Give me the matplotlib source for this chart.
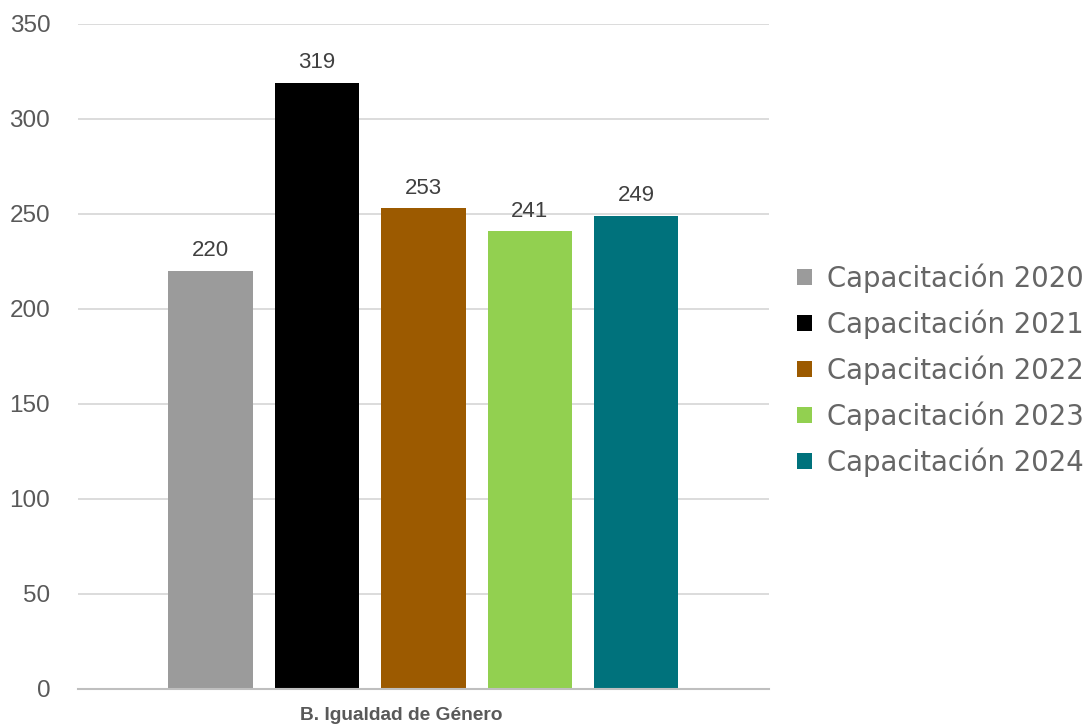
import matplotlib
matplotlib.use("Agg")
import matplotlib.pyplot as plt
import matplotlib.transforms as mtransforms
import numpy as np

# Data
category = "B. Igualdad de Género"
series = ["Capacitación 2020", "Capacitación 2021", "Capacitación 2022",
          "Capacitación 2023", "Capacitación 2024"]
values = [220, 319, 253, 241, 249]
colors = ["#9B9B9B", "#000000", "#9C5A00", "#92D050", "#00727C"]
yticks = [0, 50, 100, 150, 200, 250, 300, 350]

fig = plt.figure(figsize=(10.89, 7.27), dpi=100)
ax = fig.add_axes([0.0716, 0.0523, 0.6345, 0.9147])

spacing = 0.154
width = 0.122
handles = []
for i, (name, v, c) in enumerate(zip(series, values, colors)):
    x = 0.5 + (i - 2) * spacing
    b = ax.bar(x, v, width=width, color=c, label=name, zorder=3)
    handles.append(b)
    ax.text(x, v + 5, f"{v}", ha="center", va="bottom",
            fontsize=16, color="#404040", family="Liberation Sans")

ax.set_xlim(0, 1)
ax.set_ylim(0, 350)
ax.set_yticks(yticks)
ax.set_yticklabels([str(t) for t in yticks], fontsize=17.5, color="#595959",
                   family="Liberation Sans")
ax.tick_params(axis="y", length=0, pad=20)
ax.set_xticks([0.5])
ax.set_xticklabels([category], fontsize=13.8, fontweight="bold", color="#595959",
                   family="Liberation Sans")
ax.tick_params(axis="x", length=0, pad=13)
# category label sits a little left of the group centre
shift = mtransforms.ScaledTranslation(-22 / 100, 0, fig.dpi_scale_trans)
for lbl in ax.get_xticklabels():
    lbl.set_transform(lbl.get_transform() + shift)

ax.grid(axis="y", color="#D9D9D9", linewidth=1.3, zorder=0)
for s in ["top", "right", "left"]:
    ax.spines[s].set_visible(False)
ax.spines["bottom"].set_color("#BFBFBF")
ax.spines["bottom"].set_linewidth(1.5)
ax.spines["bottom"].set_zorder(4)

leg = fig.legend(handles=handles, labels=series, loc="center left",
                 bbox_to_anchor=(0.724, 0.491), frameon=False,
                 prop={"family": "DejaVu Sans", "size": 19.8},
                 handlelength=0.55, handleheight=0.55, handletextpad=0.55,
                 labelspacing=0.6, borderaxespad=0, borderpad=0.3)
for t in leg.get_texts():
    t.set_color("#666666")

fig.savefig("out.png", dpi=100)
